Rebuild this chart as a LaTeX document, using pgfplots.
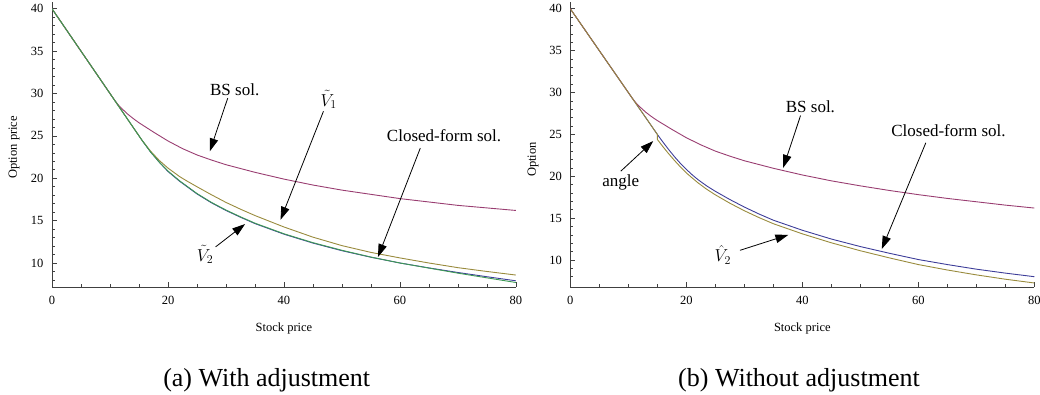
\documentclass[border=0pt]{standalone}
\usepackage{fontspec}
\setmainfont{Liberation Serif}
\usepackage{pgfplots}
\pgfplotsset{compat=1.18}
\usetikzlibrary{arrows.meta}
\definecolor{mblue}{rgb}{0.24,0.24,0.6}
\definecolor{mpurple}{rgb}{0.6,0.24,0.442}
\definecolor{molive}{rgb}{0.6,0.547,0.24}
\definecolor{mgreen}{rgb}{0.24,0.6,0.33}
\pgfplotsset{
  mstyle/.style={
    scale only axis, width=464pt, height=285pt,
    axis lines*=left, axis line style={-, black!75, line width=0.8pt},
    xmin=0, xmax=80, xtick={0,20,...,80}, minor xtick={5,10,...,75},
    ytick={10,15,...,40}, minor ytick={8,...,40},
    tick align=inside, major tick length=5pt, minor tick length=3pt,
    tick style={black!75, line width=0.6pt},
    ticklabel style={font=\fontsize{12.5}{12.5}\selectfont},
    /pgf/number format/assume math mode=true,
    xticklabel style={yshift=-6pt},
    yticklabel style={xshift=-5pt},
    label style={font=\fontsize{12.5}{12.5}\selectfont},
  },
  curve/.style={line width=0.9pt, no markers},
}
\tikzset{
  arr/.style={-{Triangle[length=13pt,width=8.5pt]}, line width=0.8pt, black},
  ann/.style={font=\fontsize{17}{17}\selectfont},
}
\begin{document}
\begin{tikzpicture}[x=1pt,y=1pt]
\useasboundingbox (0,0) rectangle (1040,395);
% ---------------- (a) ----------------
\begin{axis}[mstyle, at={(52pt,108pt)}, anchor=south west,
  ymin=7.17, ymax=40.8,
  xlabel={Stock price}, ylabel={Option price},
  xlabel style={at={(axis description cs:0.5,-0.147)}, anchor=center},
  ylabel style={at={(axis description cs:-0.082,0.49)}, anchor=center},
]
\addplot[curve, mblue] coordinates {(0,40) (10,30) (15,25) (15.5,24.5) (17,23.1) (18.5,21.9) (20,20.8) (22,19.65) (25,18.15) (27.5,17.1) (30,16.2) (32.5,15.4) (35,14.65) (40,13.4) (45,12.35) (50,11.45) (55,10.68) (60,10.0) (65,9.42) (70,8.88) (75,8.38) (80,7.9)};
\addplot[curve, mpurple] coordinates {(0,40) (10,30) (10.5,29.5) (11,29.02) (11.5,28.6) (12,28.25) (13,27.6) (14,27.05) (15,26.55) (17.5,25.45) (20,24.4) (22.5,23.5) (25,22.75) (27.5,22.15) (30,21.6) (35,20.7) (40,19.9) (45,19.2) (50,18.6) (55,18.1) (60,17.6) (65,17.2) (70,16.8) (75,16.5) (80,16.2)};
\addplot[curve, molive] coordinates {(0,40) (10,30) (15,25) (15.5,24.5) (17,23.2) (18.5,22.1) (20,21.2) (22,20.2) (23.2,19.7) (25,19.0) (27.5,18.05) (30,17.15) (32.5,16.35) (35,15.6) (40,14.25) (45,13.05) (50,12.05) (55,11.25) (60,10.6) (65,10.0) (70,9.45) (75,9.0) (80,8.58)};
\addplot[curve, mgreen] coordinates {(0,40) (10,30) (15,25) (15.5,24.5) (17,23.1) (18.5,21.9) (20,20.85) (22,19.7) (25,18.2) (27.5,17.15) (30,16.25) (32.5,15.45) (35,14.7) (40,13.45) (45,12.4) (50,11.5) (55,10.7) (60,10.0) (65,9.4) (70,8.8) (75,8.25) (80,7.7)};
\node[ann] at (axis cs:31.5,30.44) {BS sol.};
\draw[arr] (axis cs:30.3,29.46) -- (axis cs:27.2,23.17);
\node[ann] at (axis cs:47.7,29.3) {$\tilde{V}_1$};
\draw[arr] (axis cs:46.8,27.9) -- (axis cs:39.4,15.1);
\node[ann] at (axis cs:67.6,25.0) {Closed-form sol.};
\draw[arr] (axis cs:63.5,23.56) -- (axis cs:56.2,10.7);
\node[ann] at (axis cs:26.4,11.0) {$\tilde{V}_2$};
\draw[arr] (axis cs:28.2,11.9) -- (axis cs:33.3,14.6);
\end{axis}
% ---------------- (b) ----------------
\begin{axis}[mstyle, at={(570.3pt,108pt)}, anchor=south west,
  ymin=6.77, ymax=40.81,
  xlabel={Stock price}, ylabel={Option},
  xlabel style={at={(axis description cs:0.5,-0.147)}, anchor=center},
  ylabel style={at={(axis description cs:-0.080,0.447)}, anchor=center},
]
\addplot[curve, mblue] coordinates {(0,40) (10,30) (15,25.0) (16,24.05) (17,23.15) (18,22.3) (19,21.52) (20,20.82) (21,20.18) (22,19.6) (23.5,18.85) (25,18.2) (27.5,17.22) (30,16.32) (32.5,15.5) (35,14.75) (40,13.55) (45,12.5) (50,11.6) (55,10.8) (60,10.05) (65,9.45) (70,8.9) (75,8.43) (80,8.0)};
\addplot[curve, mpurple] coordinates {(0,40) (10,30) (10.5,29.5) (11,29.03) (11.5,28.62) (12,28.28) (13,27.65) (14,27.12) (15,26.65) (17.5,25.6) (20,24.6) (22.5,23.75) (25,23.0) (27.5,22.4) (30,21.85) (35,20.95) (40,20.15) (45,19.45) (50,18.85) (55,18.3) (60,17.8) (65,17.35) (70,16.95) (75,16.55) (80,16.2)};
\addplot[curve, molive] coordinates {(0,40) (10,30) (15,25) (15,24.4) (16,23.5) (17,22.65) (18,21.85) (19,21.1) (20,20.4) (21,19.8) (22,19.22) (23.5,18.45) (25,17.78) (27.5,16.78) (30,15.88) (32.5,15.07) (35,14.33) (40,13.12) (45,12.05) (50,11.1) (55,10.25) (60,9.45) (65,8.8) (70,8.22) (75,7.7) (80,7.25)};
\node[ann] at (axis cs:41.4,28.3) {BS sol.};
\draw[arr] (axis cs:39.7,27.25) -- (axis cs:36.7,21.0);
\node[ann] at (axis cs:8.7,19.3) {angle};
\draw[arr] (axis cs:8.7,20.6) -- (axis cs:14.3,24.2);
\node[ann] at (axis cs:65.2,25.46) {Closed-form sol.};
\draw[arr] (axis cs:61.3,24.0) -- (axis cs:53.7,11.3);
\node[ann] at (axis cs:26.3,10.64) {$\hat{V}_2$};
\draw[arr] (axis cs:29.25,11.15) -- (axis cs:37.6,13.0);
\end{axis}
% ---------------- captions ----------------
\node[font=\fontsize{26}{26}\selectfont, anchor=base] at (266.7,8) {(a) With adjustment};
\node[font=\fontsize{26}{26}\selectfont, anchor=base] at (799,8) {(b) Without adjustment};
\end{tikzpicture}
\end{document}
